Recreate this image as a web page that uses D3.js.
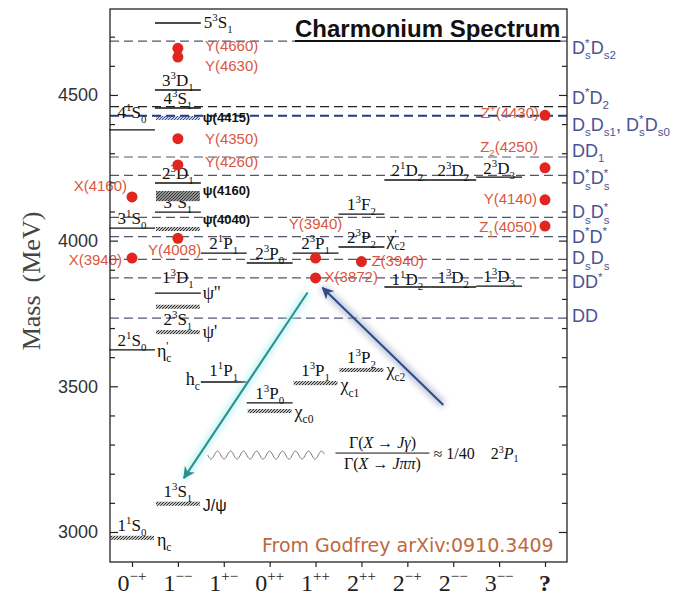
<!DOCTYPE html>
<html>
<head>
<meta charset="utf-8">
<script src="https://cdn.jsdelivr.net/npm/d3@7"></script>
<style>
  body { margin: 0; background: #fff; }
  svg { display: block; }
</style>
</head>
<body>
<script>
// J^PC columns along the bottom
const categories = ["0-+", "1--", "1+-", "0++", "1++", "2++", "2-+", "2--", "3--", "?"];
const tickBase = ["0", "1", "1", "0", "1", "2", "2", "2", "3", "?"];
const tickSup = ["\u2212+", "\u2212\u2212", "+\u2212", "++", "++", "++", "\u2212+", "\u2212\u2212", "\u2212\u2212", ""];
const massTicks = [3000, 3500, 4000, 4500];
const minorTicks = [3100, 3200, 3300, 3400, 3600, 3700, 3800, 3900, 4100, 4200, 4300, 4400, 4600, 4700];

// predicted levels (solid lines): column, mass (MeV), state
const predicted = [
  ["0-+", 4380, "4^{1}S_{0}"],
  ["0-+", 4043, "3^{1}S_{0}"],
  ["0-+", 3625, "2^{1}S_{0}"],
  ["1--", 4747, "5^{3}S_{1}"],
  ["1--", 4517, "3^{3}D_{1}"],
  ["1--", 4455, "4^{3}S_{1}"],
  ["1--", 4198, "2^{3}D_{1}"],
  ["1--", 4098, "3^{3}S_{1}"],
  ["1--", 3820, "1^{3}D_{1}"],
  ["1+-", 3957, "2^{1}P_{1}"],
  ["1+-", 3515, "1^{1}P_{1}"],
  ["0++", 3923, "2^{3}P_{0}"],
  ["0++", 3443, "1^{3}P_{0}"],
  ["1++", 3957, "2^{3}P_{1}"],
  ["2++", 4091, "1^{3}F_{2}"],
  ["2++", 3978, "2^{3}P_{2}"],
  ["2-+", 4208, "2^{1}D_{2}"],
  ["2-+", 3841, "1^{1}D_{2}"],
  ["2--", 4208, "2^{3}D_{2}"],
  ["2--", 3841, "1^{3}D_{2}"],
  ["3--", 4218, "2^{3}D_{3}"],
  ["3--", 3844, "1^{3}D_{3}"]
];
// particle names hung on some predicted lines
const predictedNames = [
  ["2^{1}S_{0}", "\u03b7^{'}_{c}"],
  ["1^{1}P_{1}", "h_{c}"],
  ["1^{3}D_{1}", "\u03c8''"],
  ["2^{3}P_{2}", "\u03c7^{'}_{c2}"]
];

// observed states (hatched bands): column, mass, state, name, band (MeV)
const observed = [
  ["0-+", 2980, "1^{1}S_{0}", "\u03b7_{c}", 14],
  ["1--", 3097, "1^{3}S_{1}", "J/\u03c8", 14],
  ["1--", 3686, "2^{3}S_{1}", "\u03c8'", 14],
  ["1--", 3773, "", "", 14],
  ["1--", 4040, "", "\u03c8(4040)", 14],
  ["1--", 4153, "", "\u03c8(4160)", 35],
  ["1--", 4421, "", "\u03c8(4415)", 14],
  ["0++", 3415, "", "\u03c7_{c0}", 14],
  ["1++", 3511, "1^{3}P_{1}", "\u03c7_{c1}", 14],
  ["2++", 3556, "1^{3}P_{2}", "\u03c7_{c2}", 14]
];

// XYZ candidates (red dots): name, column, mass
const exotics = [
  ["Y(4660)", "1--", 4660],
  ["Y(4630)", "1--", 4630],
  ["Y(4350)", "1--", 4350],
  ["Y(4260)", "1--", 4260],
  ["Y(4008)", "1--", 4008],
  ["X(4160)", "0-+", 4150],
  ["X(3940)", "0-+", 3940],
  ["Y(3940)", "1++", 3940],
  ["X(3872)", "1++", 3872],
  ["Z(3940)", "2++", 3928],
  ["Z^{+}(4430)", "?", 4430],
  ["Z_{2}(4250)", "?", 4250],
  ["Y(4140)", "?", 4140],
  ["Z_{1}(4050)", "?", 4050]
];

// open charm thresholds (dashed lines): pair, mass
const thresholds = [
  ["D^{*}_{s}D_{s2}", 4685],
  ["D^{*}D_{2}", 4460],
  ["D_{s}D_{s1}, D^{*}_{s}D_{s0}", 4429],
  ["DD_{1}", 4287],
  ["D^{*}_{s}D^{*}_{s}", 4224],
  ["D_{s}D^{*}_{s}", 4080],
  ["D^{*}D^{*}", 4014],
  ["D_{s}D_{s}", 3936],
  ["DD^{*}", 3872],
  ["DD", 3734]
];

// label placement tweaks
const dotLabelPos = {
  "Y(4660)": [27, 3, "start"], "Y(4630)": [27, 14, "start"], "Y(4350)": [27, 5, "start"],
  "Y(4260)": [27, 2, "start"], "Y(4008)": [-30, 17, "start"], "X(4160)": [-5, -6, "end"],
  "X(3940)": [-10, 7, "end"], "Y(3940)": [0, -29, "middle"], "X(3872)": [9, 4, "start"],
  "Z(3940)": [10, 4, "start"], "Z^{+}(4430)": [-6, 3, "end"], "Z_{2}(4250)": [-7, -16, "end"],
  "Y(4140)": [-8, 4, "end"], "Z_{1}(4050)": [-8, 6, "end"]
};
const thresholdLabelDy = [7, -9, 9, -6, 3, -5, 0, -1, 4, -2];
const levelLabelDy = { "4^{1}S_{0}": -12, "1^{3}D_{1}": -10, "1^{1}P_{1}": -6, "1^{1}D_{2}": -2, "2^{3}D_{3}": -3 };
const nameDy = {
  "\u03b7_{c}": 8, "J/\u03c8": 7, "\u03c8'": 6, "\u03c8(4040)": -5, "\u03c8(4160)": -1,
  "\u03c8(4415)": 4, "\u03c7_{c0}": 7, "\u03c7_{c1}": 8, "\u03c7_{c2}": 6,
  "\u03b7^{'}_{c}": 7, "h_{c}": 3, "\u03c8''": 6, "\u03c7^{'}_{c2}": -2
};

const width = 693, height = 597;
const serif = "'Liberation Serif', 'DejaVu Serif', serif";
const sans = "'Liberation Sans', Arial, sans-serif";
const red = "#e0261f", redText = "#d9573f", blue = "#4a5496";

const x = d3.scalePoint().domain(categories).range([132, 545]);
const y = d3.scaleLinear().domain([2897, 4795]).range([562, 9]);
const half = x.step() / 2;
const plotL = 110, plotR = 567, plotT = 9, plotB = 562;

const svg = d3.select("body").append("svg")
  .attr("width", width).attr("height", height);

const defs = svg.append("defs");
function hatch(id, col, bg) {
  const p = defs.append("pattern").attr("id", id)
    .attr("patternUnits", "userSpaceOnUse").attr("width", 3).attr("height", 3);
  if (bg) p.append("rect").attr("width", 3).attr("height", 3).attr("fill", bg);
  p.append("path").attr("d", "M-1,1L1,-1M0,3L3,0M2,4L4,2").attr("stroke", col).attr("stroke-width", 1.1);
}
hatch("hatch", "#222");
hatch("hatchBlue", "#34458e");
hatch("hatchWide", "#333", "#b8b8b8");
const glow = defs.append("filter").attr("id", "glow")
  .attr("x", "-30%").attr("y", "-30%").attr("width", "160%").attr("height", "160%");
glow.append("feGaussianBlur").attr("stdDeviation", 3);
function head(id, col) {
  defs.append("marker").attr("id", id).attr("viewBox", "0 0 10 10")
    .attr("refX", 9).attr("refY", 5).attr("markerWidth", 6).attr("markerHeight", 6)
    .attr("orient", "auto")
    .append("path").attr("d", "M0,0L10,5L0,10L3,5z").attr("fill", col);
}
head("headTeal", "#2a9090");
head("headBlue", "#2c4a8c");

// rich text with ^{sup} and _{sub}
function rich(text, str, size) {
  const re = /\^\{([^}]*)\}|_\{([^}]*)\}|([^^_]+)/g;
  let m, shift = 0, lastSup = null;
  while ((m = re.exec(str))) {
    let t, target, fs = size, dx = 0;
    if (m[1] !== undefined) { t = m[1]; target = -0.4 * size; fs = 0.64 * size; }
    else if (m[2] !== undefined) {
      t = m[2]; target = 0.3 * size; fs = 0.64 * size;
      if (lastSup) dx = -lastSup.node().getComputedTextLength();
    } else { t = m[3]; target = 0; }
    const ts = text.append("tspan").attr("font-size", fs).attr("dy", target - shift).text(t);
    if (dx) ts.attr("dx", dx);
    shift = target;
    lastSup = m[1] !== undefined ? ts : null;
  }
  return text;
}

// thresholds
svg.append("g").selectAll("line").data(thresholds).join("line")
  .attr("x1", plotL).attr("x2", plotR)
  .attr("y1", d => y(d[1])).attr("y2", d => y(d[1]))
  .attr("stroke", (d, i) => i === 2 ? "#263a80" : i === 1 ? "#222" : "#50566e")
  .attr("stroke-width", (d, i) => i === 2 ? 2 : 1.2)
  .attr("stroke-dasharray", "9,5");

thresholds.forEach((d, i) => {
  const t = svg.append("text").attr("x", plotR + 5).attr("y", y(d[1]) + thresholdLabelDy[i] + 6)
    .attr("font-family", sans).attr("fill", blue);
  rich(t, d[0], 18);
});

// predicted levels
const lvl = svg.append("g");
lvl.selectAll("line").data(predicted).join("line")
  .attr("x1", d => x(d[0]) - half).attr("x2", d => x(d[0]) + half)
  .attr("y1", d => y(d[1])).attr("y2", d => y(d[1]))
  .attr("stroke", "#111").attr("stroke-width", 1.4);
predicted.forEach(d => {
  const t = lvl.append("text").attr("font-family", serif).attr("fill", "#111");
  if (d[2] === "5^{3}S_{1}") {
    t.attr("x", x(d[0]) + half + 3).attr("y", y(d[1]) + 5);
  } else {
    t.attr("x", x(d[0])).attr("y", y(d[1]) + (levelLabelDy[d[2]] ?? -4)).attr("text-anchor", "middle");
  }
  rich(t, d[2], 17);
});
predictedNames.forEach(([state, name]) => {
  const d = predicted.find(p => p[2] === state);
  const onLeft = name === "h_{c}";
  const t = lvl.append("text").attr("font-family", serif).attr("fill", "#111")
    .attr("x", onLeft ? x(d[0]) - half - 1 : x(d[0]) + half + 2)
    .attr("y", y(d[1]) + nameDy[name])
    .attr("text-anchor", onLeft ? "end" : "start");
  rich(t, name, 18);
});

// observed states
const obs = svg.append("g");
observed.forEach(d => {
  const h = Math.abs(y(d[1] + d[4] / 2) - y(d[1] - d[4] / 2));
  const fill = d[3] === "\u03c8(4415)" ? "url(#hatchBlue)" : d[4] > 20 ? "url(#hatchWide)" : "url(#hatch)";
  obs.append("rect")
    .attr("x", x(d[0]) - half + 1).attr("width", 2 * half - 2)
    .attr("y", y(d[1]) - h / 2).attr("height", h)
    .attr("fill", fill);
  if (d[2]) {
    const t = obs.append("text").attr("font-family", serif).attr("fill", "#111")
      .attr("x", x(d[0])).attr("y", y(d[1]) - 7).attr("text-anchor", "middle");
    rich(t, d[2], 17);
  }
  if (d[3]) {
    const small = d[3].startsWith("\u03c8(");
    const t = obs.append("text")
      .attr("font-family", small || d[3] === "J/\u03c8" ? sans : serif)
      .attr("font-weight", small ? "bold" : "normal")
      .attr("fill", "#111")
      .attr("x", x(d[0]) + half + 2).attr("y", y(d[1]) + nameDy[d[3]]);
    rich(t, d[3], small ? 13 : d[3] === "J/\u03c8" ? 16 : 18);
  }
});

// arrows (defined in chart units)
function arrow(c0, dx0, m0, c1, dx1, m1, col, glowCol, id) {
  const g = svg.append("g");
  const x0 = x(c0) + dx0, y0 = y(m0), x1 = x(c1) + dx1, y1 = y(m1);
  g.append("line").attr("x1", x0).attr("y1", y0).attr("x2", x1).attr("y2", y1)
    .attr("stroke", glowCol).attr("stroke-width", 7).attr("opacity", 0.7).attr("filter", "url(#glow)");
  g.append("line").attr("x1", x0).attr("y1", y0).attr("x2", x1).attr("y2", y1)
    .attr("stroke", col).attr("stroke-width", 2).attr("marker-end", `url(#${id})`);
}
arrow("1++", -8, 3822, "1--", 6, 3185, "#2a9090", "#a8eeee", "headTeal");
arrow("2-+", 36, 3436, "1++", 7, 3838, "#2c4a8c", "#9aa6c4", "headBlue");

// wavy photon line
{
  const x0 = x("1+-") - 16, x1 = x("1++") + 9, yw = y(3264);
  let d = "";
  for (let px = x0; px <= x1; px += 0.5) {
    d += (px === x0 ? "M" : "L") + px.toFixed(1) + "," + (yw + 4 * Math.sin((px - x0) / 13 * 2 * Math.PI)).toFixed(2);
  }
  svg.append("path").attr("d", d).attr("fill", "none").attr("stroke", "#777").attr("stroke-width", 1);
}

// ratio formula
{
  const fx = x("2++") + 21, fy = y(3264);
  const f = svg.append("g").attr("font-family", serif).attr("font-size", 16).attr("fill", "#111");
  const num = f.append("text").attr("x", fx).attr("y", fy - 7).attr("text-anchor", "middle");
  num.append("tspan").text("\u0393(");
  num.append("tspan").attr("font-style", "italic").text("X");
  num.append("tspan").text(" \u2192 ");
  num.append("tspan").attr("font-style", "italic").text("J\u03b3");
  num.append("tspan").text(")");
  const den = f.append("text").attr("x", fx).attr("y", fy + 14).attr("text-anchor", "middle");
  den.append("tspan").text("\u0393(");
  den.append("tspan").attr("font-style", "italic").text("X");
  den.append("tspan").text(" \u2192 ");
  den.append("tspan").attr("font-style", "italic").text("J\u03c0\u03c0");
  den.append("tspan").text(")");
  f.append("line").attr("x1", fx - 47).attr("x2", fx + 47).attr("y1", fy - 2).attr("y2", fy - 2)
    .attr("stroke", "#111").attr("stroke-width", 1);
  const r = f.append("text").attr("x", fx + 51).attr("y", fy + 4).attr("xml:space", "preserve");
  r.append("tspan").text("\u2248 1/40    2");
  r.append("tspan").attr("font-size", 10).attr("dy", -6).text("3");
  r.append("tspan").attr("font-style", "italic").attr("dy", 6).text("P");
  r.append("tspan").attr("font-size", 10).attr("dy", 3).text("1");
}

// red dots
svg.append("g").selectAll("circle").data(exotics).join("circle")
  .attr("cx", d => x(d[1])).attr("cy", d => y(d[2])).attr("r", 5.5)
  .attr("fill", red);
exotics.forEach(d => {
  const p = dotLabelPos[d[0]];
  const t = svg.append("text").attr("font-family", sans).attr("fill", redText)
    .attr("x", x(d[1]) + p[0]).attr("y", y(d[2]) + p[1]).attr("text-anchor", p[2]);
  rich(t, d[0], 15);
});

// frame and axes
svg.append("rect").attr("x", plotL).attr("y", plotT).attr("width", plotR - plotL).attr("height", plotB - plotT)
  .attr("fill", "none").attr("stroke", "#222").attr("stroke-width", 1.3);

const yMajor = svg.append("g").attr("transform", `translate(${plotL},0)`)
  .call(d3.axisLeft(y).tickValues(massTicks).tickSize(-8).tickPadding(12).tickFormat(d3.format("d")));
yMajor.select(".domain").remove();
yMajor.selectAll("text").attr("font-family", sans).attr("font-size", 18).attr("fill", "#333");
const yMinor = svg.append("g").attr("transform", `translate(${plotL},0)`)
  .call(d3.axisLeft(y).tickValues(minorTicks).tickSize(-5).tickFormat(""));
yMinor.select(".domain").remove();
const rMajor = svg.append("g").attr("transform", `translate(${plotR},0)`)
  .call(d3.axisRight(y).tickValues(massTicks).tickSize(-8).tickFormat(""));
rMajor.select(".domain").remove();
const rMinor = svg.append("g").attr("transform", `translate(${plotR},0)`)
  .call(d3.axisRight(y).tickValues(minorTicks).tickSize(-5).tickFormat(""));
rMinor.select(".domain").remove();
svg.selectAll(".tick line").attr("stroke", "#222").attr("stroke-width", 1.2);

const xAxis = svg.append("g").attr("transform", `translate(0,${plotB})`)
  .call(d3.axisBottom(x).tickSize(5).tickFormat(""));
xAxis.select(".domain").remove();
xAxis.selectAll(".tick line").attr("stroke", "#222").attr("stroke-width", 1.2);

categories.forEach((c, i) => {
  const t = svg.append("text").attr("x", x(c)).attr("y", 591).attr("text-anchor", "middle")
    .attr("font-family", serif).attr("font-size", 24).attr("fill", "#222")
    .attr("font-weight", c === "?" ? "bold" : "normal");
  t.append("tspan").text(tickBase[i]);
  if (tickSup[i]) t.append("tspan").attr("font-size", 15).attr("dy", -10).text(tickSup[i]);
});

svg.append("text")
  .attr("transform", "translate(40,281) rotate(-90)")
  .attr("text-anchor", "middle").attr("font-family", serif).attr("font-size", 26)
  .attr("fill", "#444").attr("xml:space", "preserve")
  .text("Mass  (MeV)");

// title
const title = svg.append("text").attr("x", 295).attr("y", 37)
  .attr("font-family", sans).attr("font-weight", "bold").attr("font-size", 24).attr("fill", "#111")
  .text("Charmonium Spectrum");
const tw = title.node().getComputedTextLength();
svg.append("line").attr("x1", 295).attr("x2", 295 + tw).attr("y1", 41).attr("y2", 41)
  .attr("stroke", "#111").attr("stroke-width", 2);

svg.append("text").attr("x", 262).attr("y", 552)
  .attr("font-family", "'DejaVu Sans', Verdana, sans-serif").attr("font-size", 19).attr("fill", "#c0683f")
  .text("From Godfrey arXiv:0910.3409");
</script>
</body>
</html>
